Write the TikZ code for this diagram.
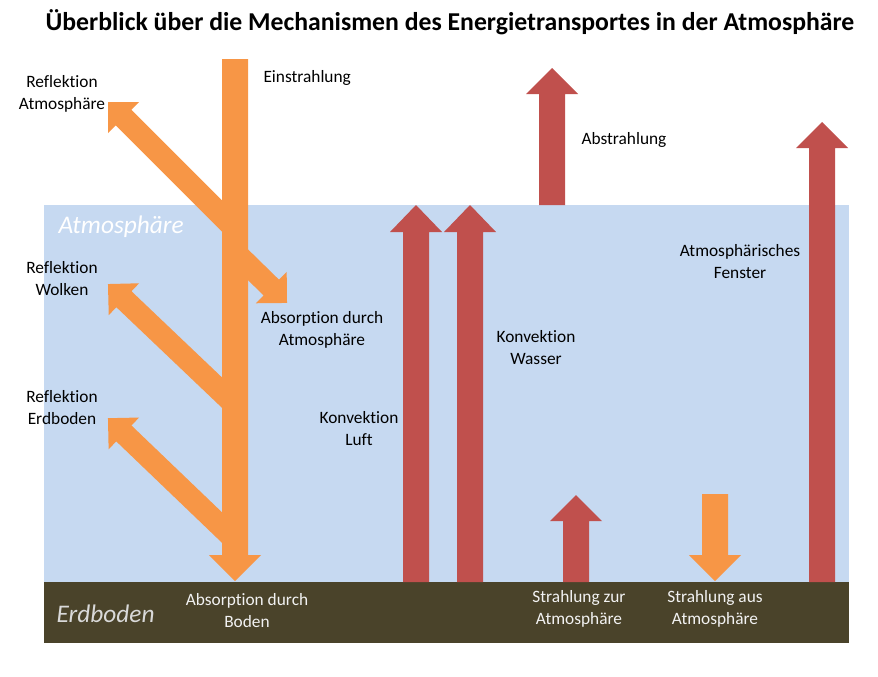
\documentclass[tikz,border=0pt]{standalone}
\usepackage{fontspec}
\setmainfont{Carlito}[Ligatures={NoCommon}]

\tikzset{every picture/.style={line width=0.75pt}}
\tikzset{
  sunarrow/.style={draw=none, fill={rgb, 255:red, 247; green, 150; blue, 70}},
  heatarrow/.style={draw=none, fill={rgb, 255:red, 192; green, 80; blue, 77}},
  lbl/.style={inner sep=0.75pt, align=center, font=\fontsize{13}{16.5}\selectfont},
  layertxt/.style={inner sep=0.75pt, font=\fontsize{19}{22}\selectfont\itshape},
}

\begin{document}
\begin{tikzpicture}[x=0.75pt,y=0.75pt,yscale=-1,xscale=1]
\useasboundingbox (0,0) rectangle (878,676);

%Shape: Rectangle [atmosphere]
\draw [draw=none, fill={rgb, 255:red, 198; green, 217; blue, 241}] (44,205) -- (849,205) -- (849,582) -- (44,582) -- cycle ;
%Shape: Rectangle [ground]
\draw [draw=none, fill={rgb, 255:red, 74; green, 67; blue, 42}] (44,582) -- (849,582) -- (849,643) -- (44,643) -- cycle ;

%Diagonal Arrow [reflection atmosphere]
\begin{scope}[shift={(235,229)}, rotate=225]
\draw [sunarrow] (0,-11) -- (157.6,-11) -- (157.6,-22) -- (179.6,0) -- (157.6,22) -- (157.6,11) -- (0,11) -- cycle ;
\end{scope}
%Diagonal Arrow [absorption atmosphere]
\begin{scope}[shift={(235,252)}, rotate=44.4]
\draw [sunarrow] (0,-11) -- (50.8,-11) -- (50.8,-22) -- (72.8,0) -- (50.8,22) -- (50.8,11) -- (0,11) -- cycle ;
\end{scope}
%Diagonal Arrow [reflection clouds]
\begin{scope}[shift={(235,405)}, rotate=223.6]
\draw [sunarrow] (0,-11) -- (153.4,-11) -- (153.4,-22) -- (175.4,0) -- (153.4,22) -- (153.4,11) -- (0,11) -- cycle ;
\end{scope}
%Diagonal Arrow [reflection ground]
\begin{scope}[shift={(235,540)}, rotate=223.8]
\draw [sunarrow] (0,-11) -- (154,-11) -- (154,-22) -- (176,0) -- (154,22) -- (154,11) -- (0,11) -- cycle ;
\end{scope}

%Down Arrow [incoming radiation]
\draw [sunarrow] (222,59) -- (248,59) -- (248,555) -- (261,555) -- (235,581) -- (209,555) -- (222,555) -- cycle ;
%Down Arrow [radiation from atmosphere]
\draw [sunarrow] (702,494) -- (728,494) -- (728,555) -- (741,555) -- (715,581) -- (689,555) -- (702,555) -- cycle ;

%Up Arrow [convection air]
\draw [heatarrow] (403,582) -- (403,232) -- (390,232) -- (416,205) -- (442,232) -- (429,232) -- (429,582) -- cycle ;
%Up Arrow [convection water]
\draw [heatarrow] (457,582) -- (457,232) -- (444,232) -- (470,205) -- (496,232) -- (483,232) -- (483,582) -- cycle ;
%Up Arrow [outgoing radiation]
\draw [heatarrow] (539,205) -- (539,94) -- (526,94) -- (552,68) -- (578,94) -- (565,94) -- (565,205) -- cycle ;
%Up Arrow [atmospheric window]
\draw [heatarrow] (809,582) -- (809,148) -- (796,148) -- (822,122) -- (848,148) -- (835,148) -- (835,582) -- cycle ;
%Up Arrow [radiation to atmosphere]
\draw [heatarrow] (563,582) -- (563,521) -- (550,521) -- (576,495) -- (602,521) -- (589,521) -- (589,582) -- cycle ;

% Text Node
\draw (450,22) node [inner sep=0.75pt] [font=\fontsize{19.3}{22}\selectfont\bfseries] (title) {Überblick über die Mechanismen des Energietransportes in der Atmosphäre};
% Text Node
\draw (262,78) node [anchor=west] [lbl] (einstr) {Einstrahlung};
% Text Node
\draw (62,94) node [lbl] (reflatm) {Reflektion\\Atmosphäre};
% Text Node
\draw (57,227) node [anchor=west] [layertxt, color=white] (atmo) {Atmosphäre};
% Text Node
\draw (62,279) node [lbl] (reflwol) {Reflektion\\Wolken};
% Text Node
\draw (322,330) node [lbl] (absatm) {Absorption durch\\Atmosphäre};
% Text Node
\draw (62,408) node [lbl] (reflerd) {Reflektion\\Erdboden};
% Text Node
\draw (359,429) node [lbl] (konvluft) {Konvektion\\Luft};
% Text Node
\draw (536,348) node [lbl] (konvwas) {Konvektion\\Wasser};
% Text Node
\draw (580,140) node [anchor=west] [lbl] (abstr) {Abstrahlung};
% Text Node
\draw (740,262) node [lbl] (fenster) {Atmosphärisches\\Fenster};
% Text Node
\draw (55,614) node [anchor=west] [layertxt, color={rgb, 255:red, 217; green, 217; blue, 217}] (erd) {Erdboden};
% Text Node
\draw (247,611) node [lbl, color={rgb, 255:red, 242; green, 242; blue, 242}] (absboden) {Absorption durch\\Boden};
% Text Node
\draw (579,609) node [lbl, color={rgb, 255:red, 242; green, 242; blue, 242}] (strzur) {Strahlung zur\\Atmosphäre};
% Text Node
\draw (715,609) node [lbl, color={rgb, 255:red, 242; green, 242; blue, 242}] (straus) {Strahlung aus\\Atmosphäre};

\end{tikzpicture}
\end{document}
